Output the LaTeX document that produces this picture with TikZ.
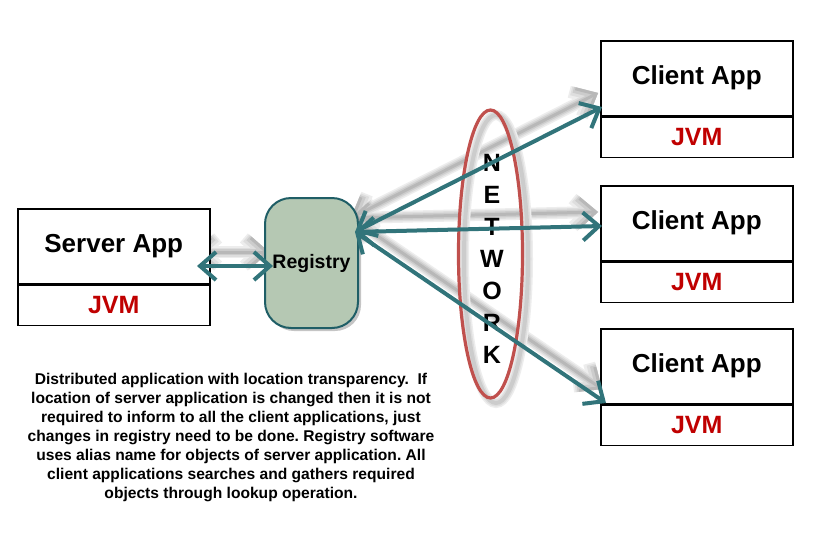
\documentclass[tikz,border=0pt]{standalone}
\usepackage{fontspec}
\setmainfont{Liberation Sans}
\usetikzlibrary{arrows.meta,shadows,shapes.geometric}
\definecolor{arrteal}{HTML}{31747A}
\definecolor{regfill}{HTML}{B5C8B3}
\definecolor{regline}{HTML}{1F5E66}
\definecolor{netred}{HTML}{C0504D}
\definecolor{jvmred}{HTML}{C00000}
\definecolor{shA}{gray}{0.93}
\definecolor{shB}{gray}{0.87}
\definecolor{shC}{gray}{0.80}
\definecolor{shD}{gray}{0.72}
\frenchspacing
\tikzset{
  apptop/.style={draw=black, line width=1.5pt, fill=white, rectangle, inner sep=0pt,
    minimum width=192pt, minimum height=75pt, anchor=north west,
    font=\bfseries\fontsize{26}{26}\selectfont},
  appbot/.style={draw=black, line width=1.5pt, fill=white, rectangle, inner sep=0pt,
    minimum width=192pt, minimum height=40pt, anchor=north,
    text=jvmred, font=\bfseries\fontsize{25}{25}\selectfont},
  regbox/.style={draw=regline, line width=2pt, fill=regfill, rounded corners=26pt,
    minimum width=93pt, minimum height=130pt, inner sep=0pt,
    font=\bfseries\fontsize{19.5}{19.5}\selectfont},
  netletter/.style={font=\bfseries\fontsize{25}{25}\selectfont, inner sep=0pt},
  barbs/.style={{Straight Barb[length=16pt,width=28pt]}-{Straight Barb[length=16pt,width=28pt]}},
  link/.style={draw=arrteal, line width=4pt, barbs},
  shA/.style={draw=shA, line width=12pt, barbs},
  shB/.style={draw=shB, line width=9pt, barbs},
  shC/.style={draw=shC, line width=6pt, barbs},
  shD/.style={draw=shD, line width=3pt, barbs},
}
\begin{document}
\begin{tikzpicture}[x=1pt,y=-1pt]
\fill[white] (0,0) rectangle (815,544);
\useasboundingbox (0,0) rectangle (815,544);

% coordinates for connector ends
\coordinate (hub) at (355,232);
\coordinate (c1tip) at (602,107);
\coordinate (c2tip) at (602,226);
\coordinate (c3tip) at (606,403);
\coordinate (sl) at (197,266);
\coordinate (sr) at (273,266);
\coordinate (hubs) at (351,218);
\coordinate (c1s) at (598,93);
\coordinate (c2s) at (598,212);
\coordinate (c3s) at (602,389);
\coordinate (sls) at (193,252);
\coordinate (srs) at (269,252);

% blurred shadows of connectors (solid light greys, widest first)
\draw[shA] (hubs) -- (c1s);
\draw[shA] (hubs) -- (c2s);
\draw[shA] (hubs) -- (c3s);
\draw[shA] (sls) -- (srs);
\draw[shB] (hubs) -- (c1s);
\draw[shB] (hubs) -- (c2s);
\draw[shB] (hubs) -- (c3s);
\draw[shB] (sls) -- (srs);
\draw[shC] (hubs) -- (c1s);
\draw[shC] (hubs) -- (c2s);
\draw[shC] (hubs) -- (c3s);
\draw[shC] (sls) -- (srs);
\draw[shD] (hubs) -- (c1s);
\draw[shD] (hubs) -- (c2s);
\draw[shD] (hubs) -- (c3s);
\draw[shD] (sls) -- (srs);

% server box
\node[apptop] (srv) at (17,208) {Server App};
\node[appbot] (srvjvm) at (srv.south) {JVM};

% client boxes
\node[apptop] (c1) at (600,40) {Client App};
\node[appbot] (c1jvm) at (c1.south) {JVM};
\node[apptop] (c2) at (600,185) {Client App};
\node[appbot] (c2jvm) at (c2.south) {JVM};
\node[apptop] (c3) at (600,328) {Client App};
\node[appbot] (c3jvm) at (c3.south) {JVM};

% registry
\node[regbox, drop shadow={shadow xshift=3pt, shadow yshift=-3pt, opacity=0.45}] (reg) at (311.5,263) {Registry};

% network ellipse with soft shadow
\draw[shA, -, line width=10pt] (496pt,-259pt) ellipse [x radius=32pt, y radius=144pt];
\draw[shB, -, line width=7pt] (496pt,-259pt) ellipse [x radius=32pt, y radius=144pt];
\draw[shC, -, line width=4pt] (496pt,-259pt) ellipse [x radius=32pt, y radius=144pt];
\node[draw=netred, line width=3.2pt, ellipse, minimum width=64pt, minimum height=288pt, inner sep=0pt] (net) at (490.5,254) {};

% NETWORK letters
\node[netletter] (n1) at (492,163) {N};
\node[netletter] (n2) at (492,195) {E};
\node[netletter] (n3) at (492,227) {T};
\node[netletter] (n4) at (492,259) {W};
\node[netletter] (n5) at (492,291) {O};
\node[netletter] (n6) at (492,323) {R};
\node[netletter] (n7) at (492,355) {K};

% connectors
\draw[link] (hub) -- (c1tip);
\draw[link] (hub) -- (c2tip);
\draw[link] (hub) -- (c3tip);
\draw[link] (sl) -- (sr);

% description
\node[font=\bfseries\fontsize{15.6}{19}\selectfont, align=center, inner sep=0pt] (desc) at (231,437)
{Distributed application with location transparency.\ \ If\\
location of server application is changed then it is not\\
required to inform to all the client applications, just\\
changes in registry need to be done. Registry software\\
uses alias name for objects of server application. All\\
client applications searches and gathers required\\
objects through lookup operation.};
\end{tikzpicture}
\end{document}
